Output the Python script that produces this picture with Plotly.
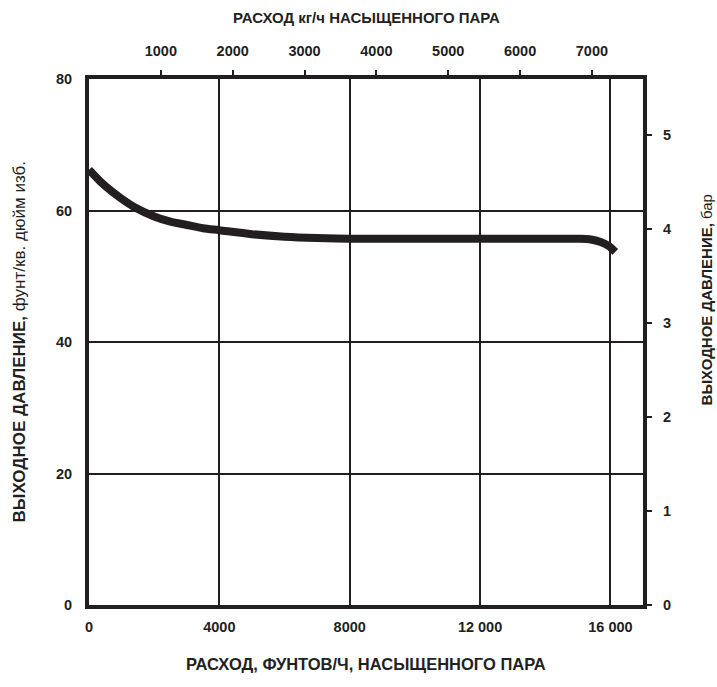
import plotly.graph_objects as go

# Data
flow_lb_h = [0, 350, 700, 1000, 1400, 2000, 2500, 3000, 3500, 4000, 5000, 6000, 7000, 8000,
             10000, 12000, 14000, 15000, 15400, 15700, 15950, 16150]
pressure_psig = [66.2, 64.4, 62.9, 61.8, 60.5, 59.1, 58.3, 57.8, 57.3, 57.0, 56.4, 56.0, 55.8, 55.7,
                 55.7, 55.7, 55.7, 55.7, 55.6, 55.2, 54.6, 53.7]

bottom_ticks = [0, 4000, 8000, 12000, 16000]
bottom_ticktext = ["0", "4000", "8000", "12 000", "16 000"]
top_ticks = [1000, 2000, 3000, 4000, 5000, 6000, 7000]
left_ticks = [0, 20, 40, 60, 80]
right_ticks = [0, 1, 2, 3, 4, 5]

LB_PER_KG = 2.2046
X_MAX = 17000
Y_MAX = 80
BAR_MAX = 5.6

INK = "#231f20"
FONT = "Liberation Sans, Arial, sans-serif"

fig = go.Figure()
fig.add_trace(go.Scatter(
    x=flow_lb_h, y=pressure_psig, mode="lines",
    line=dict(color=INK, width=8, shape="spline", smoothing=0.8),
    hoverinfo="skip", showlegend=False,
))
# invisible trace to activate the secondary axes
fig.add_trace(go.Scatter(
    x=[v / LB_PER_KG for v in flow_lb_h], y=[v / 14.5038 for v in pressure_psig],
    xaxis="x2", yaxis="y2", mode="lines", line=dict(width=0), opacity=0,
    hoverinfo="skip", showlegend=False,
))

tickfont = dict(family=FONT, size=14.5, color=INK, weight="bold")

fig.update_layout(
    width=717, height=687,
    margin=dict(l=89, r=74, t=79, b=82),
    paper_bgcolor="white", plot_bgcolor="white",
    font=dict(family=FONT, color=INK),
    xaxis=dict(
        range=[0, X_MAX], tickvals=bottom_ticks, ticktext=bottom_ticktext,
        showgrid=True, gridcolor=INK, gridwidth=2, zeroline=False,
        showline=True, linecolor=INK, linewidth=4, mirror=True,
        ticks="", ticklabelstandoff=6, tickfont=tickfont,
    ),
    xaxis2=dict(
        range=[0, X_MAX / LB_PER_KG], overlaying="x", side="top",
        tickvals=top_ticks, showgrid=False, zeroline=False, showline=False,
        ticks="outside", ticklen=8, tickwidth=2, tickcolor=INK,
        ticklabelstandoff=8, tickfont=tickfont,
    ),
    yaxis=dict(
        range=[0, Y_MAX], tickvals=left_ticks,
        showgrid=True, gridcolor=INK, gridwidth=2, zeroline=False,
        showline=True, linecolor=INK, linewidth=4, mirror=True,
        ticks="", ticklabelstandoff=10, tickfont=tickfont,
    ),
    yaxis2=dict(
        range=[0, BAR_MAX], overlaying="y", side="right",
        tickvals=right_ticks, showgrid=False, zeroline=False, showline=False,
        ticks="outside", ticklen=8, tickwidth=2, tickcolor=INK,
        ticklabelstandoff=8, tickfont=tickfont,
    ),
    annotations=[
        dict(text="<b>РАСХОД кг/ч НАСЫЩЕННОГО ПАРА</b>", xref="paper", yref="paper",
             x=0.5, y=1, yshift=72, showarrow=False,
             font=dict(family=FONT, size=15, color=INK)),
        dict(text="<b>РАСХОД, ФУНТОВ/Ч, НАСЫЩЕННОГО ПАРА</b>", xref="paper", yref="paper",
             x=0.5, y=0, yshift=-70, showarrow=False,
             font=dict(family=FONT, size=16.5, color=INK)),
        dict(text="<b>ВЫХОДНОЕ ДАВЛЕНИЕ,</b> фунт/кв. дюйм изб.", xref="paper", yref="paper",
             x=0, xshift=-82, y=0.5, textangle=-90, showarrow=False,
             font=dict(family=FONT, size=17, color=INK)),
        dict(text="<b>ВЫХОДНОЕ ДАВЛЕНИЕ,</b> бар", xref="paper", yref="paper",
             x=1, xshift=74, y=0.58, textangle=-90, showarrow=False,
             font=dict(family=FONT, size=15, color=INK)),
    ],
)

fig.write_html("out.html", config={"displayModeBar": False},
               post_script="document.body.style.margin='0';")
